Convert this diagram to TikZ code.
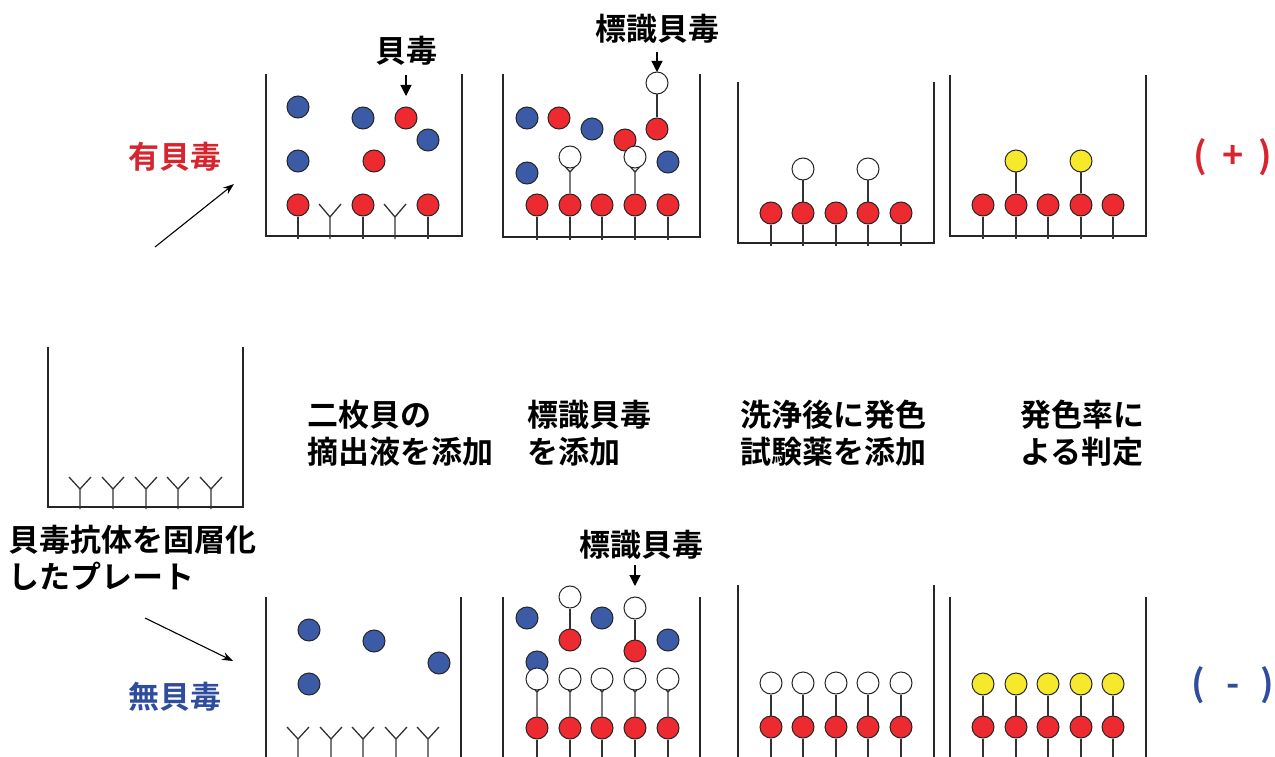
\documentclass[tikz,border=0pt]{standalone}
\usepackage{fontspec}
\newfontfamily\jpfont{Noto Sans CJK JP Bold}
\usetikzlibrary{arrows.meta}
\definecolor{ballred}{HTML}{EC2A30}
\definecolor{ballblue}{HTML}{3C5BA6}
\definecolor{ballyellow}{HTML}{F6E82A}
\definecolor{txtred}{HTML}{D7252F}
\definecolor{txtblue}{HTML}{2F4D9C}
\begin{document}
\begin{tikzpicture}[x=1pt,y=-1pt,
  wall/.style={line width=1.8pt,draw=black!85},
  stem/.style={line width=1.3pt,draw=black!80},
  ball/.style={circle,draw=black!85,line width=1pt,minimum size=22pt,inner sep=0pt},
  rb/.style={ball,fill=ballred},
  bb/.style={ball,fill=ballblue},
  wb/.style={ball,fill=white},
  yb/.style={ball,fill=ballyellow},
  lbl/.style={font=\jpfont\fontsize{31}{37}\selectfont,inner sep=0pt,align=left},
  sign/.style={font=\jpfont\fontsize{36}{40}\selectfont,inner sep=0pt},
  pointer/.style={line width=1.2pt,-{Triangle[length=11pt,width=11pt]}},
  trend/.style={line width=1.1pt,-{Stealth[length=11pt,width=8pt]}},
]
\useasboundingbox (0,0) rectangle (1275,757);

% ---------- plate with immobilised antibodies ----------
\draw[wall] (48,347) -- (48,507) -- (243,507) -- (243,347);
\foreach \x in {80,113,146,178,211}
  \draw[stem] (\x,509) -- (\x,489) -- ++(-11,-12) (\x,489) -- ++(11,-12);
% two-line captions are anchored on the baseline of their last line
\node[lbl,anchor=base west] (plate) at (8,588) {貝毒抗体を固層化\\したプレート};

% ---------- row labels and branch arrows ----------
\node[lbl,anchor=base west,text=txtred] (pos) at (128,168) {有貝毒};
\node[lbl,anchor=base west,text=txtblue] (neg) at (128,708) {無貝毒};
\coordinate (upS) at (155,247);
\coordinate (upE) at (234,184);
\coordinate (dnS) at (145,618);
\coordinate (dnE) at (233,661);
\draw[trend] (upS) -- (upE);
\draw[trend] (dnS) -- (dnE);

% ---------- step captions ----------
\node[lbl,anchor=base west] (s1) at (307,463) {二枚貝の\\摘出液を添加};
\node[lbl,anchor=base west] (s2) at (527,463) {標識貝毒\\を添加};
\node[lbl,anchor=base west] (s3) at (740,463) {洗浄後に発色\\試験薬を添加};
\node[lbl,anchor=base west] (s4) at (1020,463) {発色率に\\よる判定};

% ---------- results ----------
\node[sign,text=txtred] (plus) at (1233,157) {(\hspace{15pt}+\hspace{15pt})};
\node[sign,text=txtblue] (minus) at (1233,685) {(\hspace{21pt}-\hspace{21pt})};

% ================= upper row : toxin present =================
% well 1 : sample added
\draw[wall] (266,74) -- (266,236) -- (462,236) -- (462,74);
\foreach \x in {330,395}
  \draw[stem] (\x,239) -- (\x,217) -- ++(-11,-13) (\x,217) -- ++(11,-13);
\foreach \x [count=\i] in {298,363,428} {
  \node[rb] (ua\i) at (\x,205) {};
  \draw[stem] (ua\i.south) -- (\x,239);
}
\node[bb] (uf1) at (298,107) {};
\node[bb] (uf2) at (363,118) {};
\node[rb] (uf3) at (406,118) {};
\node[bb] (uf4) at (428,140) {};
\node[bb] (uf5) at (298,161) {};
\node[rb] (uf6) at (374,161) {};
\node[lbl,anchor=base] (tox) at (406,63) {貝毒};
\coordinate (toxA) at (406,75);
\coordinate (toxB) at (406,96);
\draw[pointer] (toxA) -- (toxB);

% well 2 : labelled toxin added
\draw[wall] (503,74) -- (503,237) -- (700,237) -- (700,74);
\node[bb] (ug1) at (527,118) {};
\node[rb] (ug2) at (559,118) {};
\node[bb] (ug3) at (592,129) {};
\node[rb] (ug4) at (625,140) {};
\node[bb] (ug5) at (527,173) {};
\node[bb] (ug6) at (668,162) {};
\node[rb] (ug7) at (657,129) {};
\node[wb] (ug8) at (657,83) {};
\draw[stem] (ug7.north) -- (ug8.south);
\foreach \x [count=\i] in {537,570,602,635,668} {
  \node[rb] (ub\i) at (\x,205) {};
  \draw[stem] (ub\i.south) -- (\x,240);
}
\foreach \x/\i in {570/2,635/4} {
  \draw[stem] (ub\i.north) -- (\x,172) -- ++(-9,-10) (\x,172) -- ++(9,-10);
  \node[wb] (uw\i) at (\x,157) {};
}
\node[lbl,anchor=base] (ltox1) at (657,41) {標識貝毒};
\coordinate (lt1A) at (657,52);
\coordinate (lt1B) at (657,72);
\draw[pointer] (lt1A) -- (lt1B);

% well 3 : washed, reagent added
\draw[wall] (738,82) -- (738,243) -- (934,243) -- (934,82);
\foreach \x [count=\i] in {771,803,836,868,901} {
  \node[rb] (uc\i) at (\x,213) {};
  \draw[stem] (uc\i.south) -- (\x,246);
}
\foreach \x/\i in {803/2,868/4} {
  \node[wb] (ucw\i) at (\x,169) {};
  \draw[stem] (uc\i.north) -- (ucw\i.south);
}

% well 4 : colour read-out
\draw[wall] (950,75) -- (950,236) -- (1146,236) -- (1146,75);
\foreach \x [count=\i] in {983,1016,1048,1081,1113} {
  \node[rb] (ud\i) at (\x,205) {};
  \draw[stem] (ud\i.south) -- (\x,239);
}
\foreach \x/\i in {1016/2,1081/4} {
  \node[yb] (udy\i) at (\x,161) {};
  \draw[stem] (ud\i.north) -- (udy\i.south);
}

% ================= lower row : toxin absent =================
% well 1
\draw[wall] (266,597) -- (266,757);
\draw[wall] (461,597) -- (461,757);
\foreach \x in {298,331,363,396,428}
  \draw[stem] (\x,757) -- (\x,739) -- ++(-11,-12) (\x,739) -- ++(11,-12);
\node[bb] (lf1) at (309,630) {};
\node[bb] (lf2) at (374,641) {};
\node[bb] (lf3) at (439,663) {};
\node[bb] (lf4) at (309,684) {};

% well 2
\draw[wall] (503,597) -- (503,757);
\draw[wall] (700,597) -- (700,757);
\node[bb] (lg1) at (527,618) {};
\node[bb] (lg2) at (602,618) {};
\node[bb] (lg3) at (668,640) {};
\node[bb] (lg4) at (537,662) {};
\node[rb] (lg5) at (570,640) {};
\node[wb] (lg6) at (570,597) {};
\draw[stem] (lg5.north) -- (lg6.south);
\node[rb] (lg7) at (635,651) {};
\node[wb] (lg8) at (635,608) {};
\draw[stem] (lg7.north) -- (lg8.south);
\foreach \x [count=\i] in {537,570,602,635,668} {
  \node[rb] (lb\i) at (\x,728) {};
  \draw[stem] (lb\i.south) -- (\x,757);
  \draw[stem] (lb\i.north) -- (\x,692) -- ++(-9,-10) (\x,692) -- ++(9,-10);
  \node[wb] (lw\i) at (\x,679) {};
}
\node[lbl,anchor=base] (ltox2) at (641,556) {標識貝毒};
\coordinate (lt2A) at (635,565);
\coordinate (lt2B) at (635,586);
\draw[pointer] (lt2A) -- (lt2B);

% well 3
\draw[wall] (738,585) -- (738,757);
\draw[wall] (934,585) -- (934,757);
\foreach \x [count=\i] in {771,803,836,868,901} {
  \node[rb] (lc\i) at (\x,727) {};
  \node[wb] (lcw\i) at (\x,683) {};
  \draw[stem] (lc\i.south) -- (\x,757);
  \draw[stem] (lc\i.north) -- (lcw\i.south);
}

% well 4
\draw[wall] (950,597) -- (950,757);
\draw[wall] (1146,597) -- (1146,757);
\foreach \x [count=\i] in {983,1016,1048,1081,1113} {
  \node[rb] (ld\i) at (\x,727) {};
  \node[yb] (ldy\i) at (\x,684) {};
  \draw[stem] (ld\i.south) -- (\x,757);
  \draw[stem] (ld\i.north) -- (ldy\i.south);
}
\end{tikzpicture}
\end{document}
